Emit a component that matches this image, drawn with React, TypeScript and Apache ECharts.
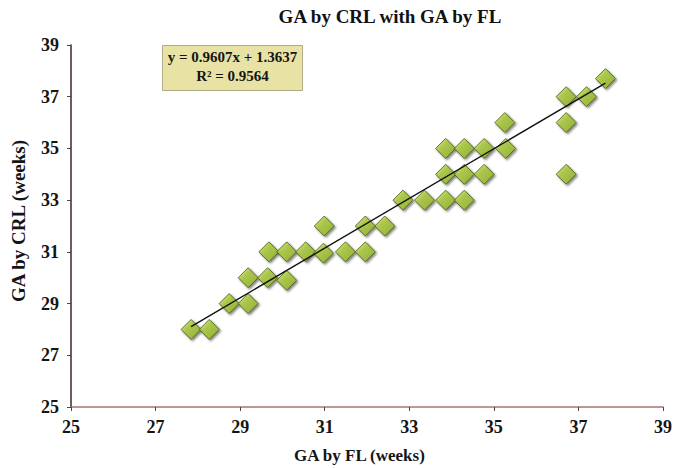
import React, { useEffect, useRef } from "react";
import * as echarts from "echarts";

const title = "GA by CRL with GA by FL";
const xTitle = "GA by FL (weeks)";
const yTitle = "GA by CRL (weeks)";
const equationText = "y = 0.9607x + 1.3637";
const r2Text = "R² = 0.9564";
const slope = 0.9607;
const intercept = 1.3637;
const axisMin = 25;
const axisMax = 39;
const axisStep = 2;

const gaByFL = [
  27.84, 28.27, 28.74, 29.19, 29.19, 29.65, 30.1, 29.68, 30.1, 30.55, 30.99,
  30.97, 31.49, 31.96, 31.96, 32.42, 32.85, 33.36, 33.86, 34.3, 33.86, 34.3,
  34.77, 33.86, 34.3, 34.77, 35.28, 35.26, 36.71, 37.19, 36.71, 36.71, 37.64,
];
const gaByCRL = [
  28, 28, 29, 29, 30, 30, 29.9, 31, 31, 31, 32, 30.95, 31, 31, 32, 32, 33,
  33, 33, 33, 34, 34, 34, 35, 35, 35, 35, 36, 37, 37, 36, 34, 37.7,
];

const FONT = '"Liberation Serif", "Times New Roman", serif';

export default function App() {
  const ref = useRef<HTMLDivElement>(null);
  useEffect(() => {
    if (!ref.current) return;
    const chart = echarts.init(ref.current, null, { renderer: "svg" });
    const points = gaByFL.map((x, i) => [x, gaByCRL[i]]);
    const xMinData = Math.min(...gaByFL);
    const xMaxData = Math.max(...gaByFL);
    const trend = [
      [xMinData, slope * xMinData + intercept],
      [xMaxData, slope * xMaxData + intercept],
    ];
    chart.setOption({
      animation: false,
      backgroundColor: "#ffffff",
      title: {
        text: title,
        left: 385,
        textAlign: "center",
        top: 2,
        textStyle: { fontFamily: FONT, fontWeight: "bold", fontSize: 19, color: "#111" },
      },
      grid: { left: 71, right: 8, top: 45, bottom: 61 },
      xAxis: {
        type: "value",
        min: axisMin,
        max: axisMax,
        interval: axisStep,
        splitLine: { show: false },
        axisLine: { show: true, onZero: false, lineStyle: { color: "#a87472", width: 1.5 } },
        axisTick: { show: true, inside: false, length: 4, lineStyle: { color: "#5a4040" } },
        axisLabel: { fontFamily: FONT, fontWeight: "bold", fontSize: 18, color: "#151515", margin: 11 },
      },
      yAxis: {
        type: "value",
        min: axisMin,
        max: axisMax,
        interval: axisStep,
        splitLine: { show: false },
        axisLine: { show: true, onZero: false, lineStyle: { color: "#3a2828", width: 1.5 } },
        axisTick: { show: true, inside: false, length: 4, lineStyle: { color: "#5a4040" } },
        axisLabel: { fontFamily: FONT, fontWeight: "bold", fontSize: 18, color: "#151515", margin: 12 },
      },
      graphic: [
        {
          type: "text",
          left: 294,
          top: 447,
          style: { text: xTitle, font: `bold 17px ${FONT}`, fill: "#151515" },
        },
        {
          type: "text",
          x: 9,
          y: 302,
          rotation: Math.PI / 2,
          style: { text: yTitle, font: `bold 19px ${FONT}`, fill: "#151515" },
        },
        {
          type: "group",
          left: 162,
          top: 45,
          children: [
            {
              type: "rect",
              shape: { x: 0, y: 0, width: 140, height: 45 },
              style: { fill: "#e8e2a4", stroke: "#b0ac88", lineWidth: 1 },
            },
            {
              type: "text",
              x: 70,
              y: 4,
              style: { text: equationText, font: `bold 15px ${FONT}`, fill: "#151515", textAlign: "center" },
            },
            {
              type: "text",
              x: 70,
              y: 23,
              style: { text: r2Text, font: `bold 15px ${FONT}`, fill: "#151515", textAlign: "center" },
            },
          ],
        },
      ],
      series: [
        {
          type: "scatter",
          data: points,
          symbol: "diamond",
          symbolSize: 20,
          z: 2,
          itemStyle: {
            color: {
              type: "linear",
              x: 0,
              y: 0,
              x2: 1,
              y2: 1,
              colorStops: [
                { offset: 0, color: "#c0dc48" },
                { offset: 1, color: "#88ad22" },
              ],
            },
            borderColor: "#465614",
            borderWidth: 1,
            shadowColor: "rgba(0,0,0,0.6)",
            shadowBlur: 2,
            shadowOffsetX: 1.5,
            shadowOffsetY: 1.5,
          },
        },
        {
          type: "line",
          data: trend,
          symbol: "none",
          z: 5,
          lineStyle: { color: "#111", width: 1.4 },
        },
      ],
    });
    return () => chart.dispose();
  }, []);
  return (
    <div
      ref={ref}
      style={{ position: "fixed", left: 0, top: 0, width: 675, height: 468, background: "#fff" }}
    />
  );
}
